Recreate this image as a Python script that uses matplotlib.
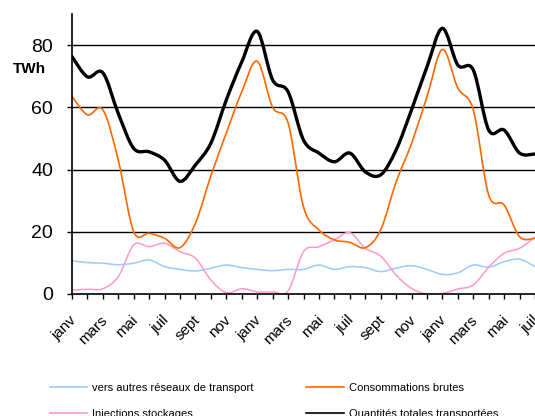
"""Monthly gas transport volumes (TWh), smoothed lines as in the source chart."""

import matplotlib

matplotlib.use("Agg")
import matplotlib.pyplot as plt
import numpy as np
from matplotlib.lines import Line2D
from matplotlib.patches import PathPatch
from matplotlib.path import Path
from matplotlib.transforms import ScaledTranslation

plt.rcParams["font.family"] = ["Liberation Sans", "DejaVu Sans"]

MONTHS = ["janv", "févr", "mars", "avr", "mai", "juin",
          "juil", "août", "sept", "oct", "nov", "déc"]
month_idx = np.arange(31)  # janv year 1 .. juil year 3
tick_labels = [MONTHS[i % 12] if i % 2 == 0 else "" for i in month_idx]

autres_reseaux = [10.7, 10.1, 9.9, 9.4, 9.9, 10.9, 8.8, 7.9, 7.4, 8.3, 9.3,
                  8.5, 7.9, 7.5, 7.9, 7.9, 9.3, 7.9, 8.8, 8.5, 7.2, 8.3,
                  9.1, 7.9, 6.3, 6.8, 9.3, 8.6, 10.4, 11.2, 8.8]
injections = [1.3, 1.5, 1.7, 5.6, 15.8, 15.2, 16.3, 13.6, 11.5, 4.5, 0.4,
              1.7, 0.7, 0.7, 1.0, 13.6, 15.2, 17.4, 19.7, 14.7, 12.2, 6.1,
              1.8, 0.0, 0.2, 1.6, 2.9, 8.6, 13.1, 14.7, 18.2]
consommations = [63.5, 57.6, 59.2, 43.0, 20.0, 19.5, 17.9, 14.9, 22.8, 38.0,
                 51.8, 65.0, 74.8, 60.0, 55.0, 28.0, 20.6, 17.4, 16.6, 14.9,
                 20.6, 36.0, 48.4, 63.4, 78.6, 66.2, 59.2, 31.8, 28.6, 18.4,
                 17.9]
total = [76.3, 69.8, 71.1, 58.0, 46.8, 45.7, 43.0, 36.2, 41.5, 48.5, 62.4,
         74.6, 84.4, 68.8, 65.0, 49.5, 45.3, 42.5, 45.3, 39.3, 38.3, 46.3,
         59.2, 73.0, 85.4, 73.6, 72.0, 52.7, 52.7, 45.3, 45.0]

SERIES = [
    ("vers autres réseaux de transport", autres_reseaux, "#99ccff", 1.1),
    ("Injections stockages", injections, "#ff99cc", 1.1),
    ("Consommations brutes", consommations, "#ff6600", 1.2),
    ("Quantités totales transportées", total, "#000000", 2.4),
]


def smooth_path(x, y):
    """Catmull-Rom through the points, expressed as cubic Bezier segments."""
    pts = np.column_stack([x, y]).astype(float)
    ext = np.vstack([pts[0], pts, pts[-1]])
    verts = [pts[0]]
    codes = [Path.MOVETO]
    for i in range(len(pts) - 1):
        p0, p1, p2, p3 = ext[i], ext[i + 1], ext[i + 2], ext[i + 3]
        verts += [p1 + (p2 - p0) / 6, p2 - (p3 - p1) / 6, p2]
        codes += [Path.CURVE4] * 3
    return Path(verts, codes)


fig = plt.figure(figsize=(5.35, 4.16), dpi=100)
ax = fig.add_axes([72 / 535, 122 / 416, 1 - 72 / 535, (294 - 14) / 416])

for label, values, color, lw in SERIES:
    ax.add_patch(PathPatch(smooth_path(month_idx, values), fill=False,
                           edgecolor=color, linewidth=lw, zorder=3,
                           capstyle="round", joinstyle="round"))

ax.set_xlim(0, 30)
ax.set_ylim(0, 90)
ax.set_yticks([0, 20, 40, 60, 80])
for yv in [20, 40, 60, 80]:
    ax.axhline(yv, color="black", linewidth=1.0, zorder=1)

ax.set_xticks(month_idx)
ax.set_xticklabels(tick_labels, rotation=45, ha="right",
                   rotation_mode="anchor", fontsize=11)
ax.tick_params(axis="x", length=3.6, width=1, pad=10)
ax.tick_params(axis="y", length=3.6, width=1, labelsize=14, pad=10)
shift = ScaledTranslation(-2 / 72, 0, fig.dpi_scale_trans)
for lab in ax.get_xticklabels():
    lab.set_transform(lab.get_transform() + shift)

for side in ["top", "right"]:
    ax.spines[side].set_visible(False)
for side in ["left", "bottom"]:
    ax.spines[side].set_linewidth(1.2)
    ax.spines[side].set_zorder(4)

fig.text(29 / 535, 1 - 69 / 416, "TWh", fontsize=11, fontweight="bold",
         ha="center", va="center")

handles = [Line2D([], [], color=c, linewidth=1.2) for _, _, c, _ in SERIES]
fig.legend(handles, [s[0] for s in SERIES], ncol=2, loc="upper left",
           bbox_to_anchor=(44 / 535, 1 - 377 / 416), frameon=False,
           fontsize=8, handlelength=3.4, handletextpad=0.4,
           labelspacing=1.5, columnspacing=4.8, borderpad=0)

fig.savefig("out.png", dpi=100)
